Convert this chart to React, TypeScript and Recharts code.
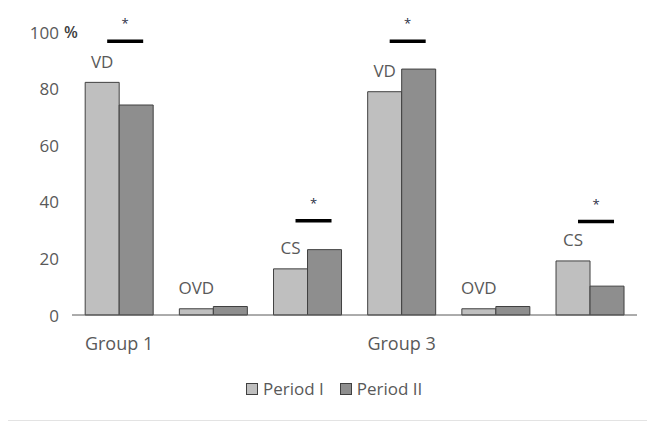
import { BarChart, Bar, XAxis, YAxis, LabelList } from 'recharts';

const categories = ['VD', 'OVD', 'CS', 'VD', 'OVD', 'CS'];
const groupLabels = ['Group 1', '', '', 'Group 3', '', ''];
const period1 = [82.2, 2.2, 16.3, 78.9, 2.2, 19.1];
const period2 = [74.2, 3, 23.1, 86.9, 3, 10.2];
// level of the significance bar (in % units), null = no marker
const sigLevel = [96.7, null, 33.3, 96.7, null, 33];
const yTicks = [0, 20, 40, 60, 80, 100];

const data = categories.map((c, i) => ({
  idx: i,
  cat: c,
  p1: period1[i],
  p2: period2[i],
  sig: sigLevel[i],
}));

const FONT = '"Open Sans", sans-serif';
const TEXT = '#595959';
const P1 = '#bfbfbf';
const P2 = '#8e8e8e';

const YTick = (props: any) => {
  const { x, y, payload } = props;
  return (
    <text x={x - 11} y={y} textAnchor="end" dominantBaseline="central" fill={TEXT} fontSize={17} fontFamily={FONT}>
      {payload.value}
      {payload.value === 100 && (
        <tspan dx={6} fill="#404040" fontWeight={600} style={{ textAnchor: 'start' }}>%</tspan>
      )}
    </text>
  );
};

const HundredTick = (props: any) => {
  const { x, y, payload } = props;
  if (payload.value !== 100) return <YTick {...props} />;
  return (
    <g>
      <text x={x - 11} y={y} textAnchor="end" dominantBaseline="central" fill={TEXT} fontSize={17} fontFamily={FONT}>
        100
      </text>
      <text x={x - 6} y={y} textAnchor="start" dominantBaseline="central" fill="#404040" fontWeight={600} fontSize={16} fontFamily={FONT}>
        %
      </text>
    </g>
  );
};

const CatLabel = (props: any) => {
  const { x, y, width, value } = props;
  return (
    <text x={x + width / 2} y={y - 21} textAnchor="middle" dominantBaseline="central" fill={TEXT} fontSize={17} fontFamily={FONT}>
      {value}
    </text>
  );
};

const SigMark = (props: any) => {
  const { x, y, height, value, index } = props;
  if (value == null) return null;
  const base = y + height;
  const ly = base - (height / period2[index]) * value;
  const cx = x + 6;
  return (
    <g>
      <line x1={cx - 18} x2={cx + 18} y1={ly} y2={ly} stroke="#000" strokeWidth={3.5} />
      <text x={cx} y={ly - 13} textAnchor="middle" fill="#2b2f45" fontSize={13} fontFamily={FONT}>
        *
      </text>
    </g>
  );
};

const LegendBox = ({ color, label }: { color: string; label: string }) => (
  <span style={{ display: 'inline-flex', alignItems: 'center', marginRight: 16 }}>
    <span
      style={{
        display: 'inline-block',
        width: 10,
        height: 10,
        background: color,
        border: '1px solid #404040',
        marginRight: 5,
      }}
    />
    <span>{label}</span>
  </span>
);

export default function App() {
  return (
    <div
      style={{
        position: 'relative',
        marginLeft: -1,
        marginTop: -2,
        width: 650,
        height: 413,
        borderLeft: '1px solid #d9d9d9',
        borderTop: '1px solid #e3e3e3',
        borderBottom: '1px solid #e3e3e3',
        background: '#fff',
      }}
    >
      <BarChart
        width={640}
        height={413}
        data={data}
        margin={{ top: 25, right: 11, bottom: 65, left: 0 }}
        barCategoryGap="14%"
        barGap={0}
      >
        <XAxis
          dataKey="idx"
          tickFormatter={(v) => groupLabels[v]}
          axisLine={{ stroke: '#595959', strokeWidth: 1 }}
          tickLine={false}
          tick={{ fill: TEXT, fontSize: 18, fontFamily: FONT }}
          tickMargin={16}
          height={40}
          interval={0}
        />
        <YAxis
          domain={[0, 100]}
          ticks={yTicks}
          axisLine={false}
          tickLine={false}
          tickSize={0}
          width={64}
          tick={<HundredTick />}
        />
        <Bar dataKey="p1" fill={P1} stroke="#404040" strokeWidth={1} isAnimationActive={false}>
          <LabelList dataKey="cat" content={<CatLabel />} />
        </Bar>
        <Bar dataKey="p2" fill={P2} stroke="#404040" strokeWidth={1} isAnimationActive={false}>
          <LabelList dataKey="sig" content={<SigMark />} />
        </Bar>
      </BarChart>
      <div
        style={{
          position: 'absolute',
          top: 370,
          left: 238,
          display: 'flex',
          fontFamily: FONT,
          fontSize: 17,
          color: TEXT,
        }}
      >
        <LegendBox color={P1} label="Period I" />
        <LegendBox color={P2} label="Period II" />
      </div>
    </div>
  );
}
